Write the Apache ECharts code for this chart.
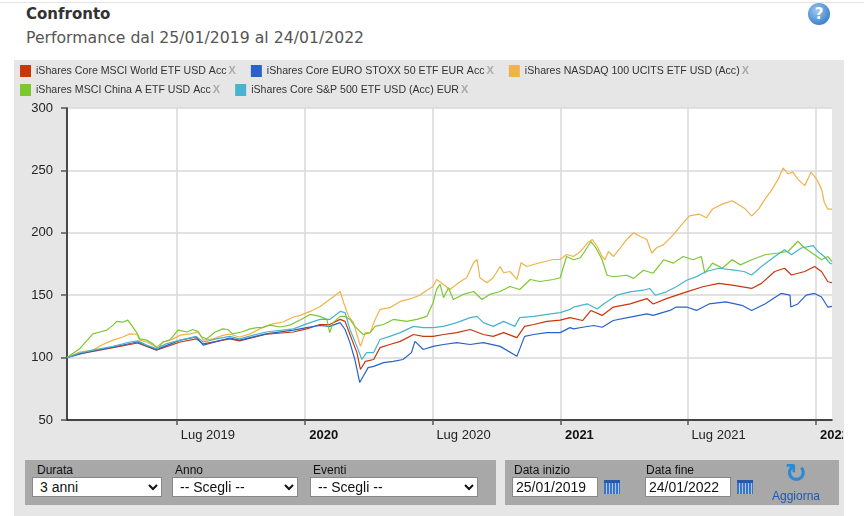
<!DOCTYPE html>
<html>
<head>
    <meta charset="utf-8" />
    <title>Confronto</title>
    <script src="https://cdn.jsdelivr.net/npm/echarts@6/dist/echarts.min.js"></script>
    <style>
        body { margin: 0; width: 864px; height: 516px; overflow: hidden; background: #fff; font-family: 'Liberation Sans', Arial, sans-serif; position: relative; }
        .topline { position: absolute; left: 0; right: 0; top: 2px; height: 1px; background: #e2e2e2; }
        .title { position: absolute; left: 26px; top: 5px; font: bold 15px 'DejaVu Sans', sans-serif; color: #333; }
        .subtitle { position: absolute; left: 26px; top: 28px; font: 15.7px 'DejaVu Sans', sans-serif; color: #555; }
        .help { position: absolute; left: 808px; top: 3px; width: 22px; height: 22px; border-radius: 11px; background: radial-gradient(circle at 40% 35%, #9cc8f0, #3f86d0 70%); color: #fff; font: bold 15px 'DejaVu Sans', sans-serif; text-align: center; line-height: 22px; }
        .panel { position: absolute; left: 14px; top: 60px; width: 830px; height: 456px; background: #e6e6e6; }
        #chart { position: absolute; left: 0; top: 0; width: 843px; height: 516px; }
        .box { position: absolute; top: 460px; height: 45px; background: #a8a8a8; }
        .lbl { position: absolute; top: 463px; font-size: 12px; color: #111; }
        select, input { position: absolute; top: 477px; height: 20px; box-sizing: border-box; font: 14px 'Liberation Sans', Arial, sans-serif; border: 1px solid #888; background: #fff; padding: 0 3px; margin: 0; color: #111; }
        .cal { position: absolute; top: 480px; width: 16px; height: 14px; background: repeating-linear-gradient(90deg, #3c74c8 0 2px, #a8c4ee 2px 3px); border-top: 3px solid #2858a8; box-sizing: border-box; }
        .refresh { position: absolute; left: 785px; top: 458px; font: bold 26px 'DejaVu Sans', sans-serif; color: #2a8ad8; }
        .agg { position: absolute; left: 772px; top: 489px; font-size: 12px; color: #2457b0; }
    </style>
</head>
<body>
    <div class="topline"></div>
    <div class="title">Confronto</div>
    <div class="subtitle">Performance dal 25/01/2019 al 24/01/2022</div>
    <div class="help">?</div>
    <div class="panel"></div>
    <div id="chart"></div>

    <div class="box" style="left:25px;width:471px;"></div>
    <div class="box" style="left:505px;width:334px;"></div>
    <div class="lbl" style="left:37px;">Durata</div>
    <div class="lbl" style="left:175px;">Anno</div>
    <div class="lbl" style="left:313px;">Eventi</div>
    <div class="lbl" style="left:514px;">Data inizio</div>
    <div class="lbl" style="left:646px;">Data fine</div>
    <select style="left:32px;width:130px;"><option>3 anni</option></select>
    <select style="left:172px;width:126px;"><option>-- Scegli --</option></select>
    <select style="left:310px;width:168px;"><option>-- Scegli --</option></select>
    <input style="left:512px;width:86px;" value="25/01/2019" />
    <div class="cal" style="left:604px;"></div>
    <input style="left:645px;width:86px;" value="24/01/2022" />
    <div class="cal" style="left:737px;"></div>
    <div class="refresh">↻</div>
    <div class="agg">Aggiorna</div>

<script>
    // nomi delle serie e colori
    var names = ['iShares Core MSCI World ETF USD Acc', 'iShares Core EURO STOXX 50 ETF EUR Acc', 'iShares NASDAQ 100 UCITS ETF USD (Acc)',
        'iShares MSCI China A ETF USD Acc', 'iShares Core S&P 500 ETF USD (Acc) EUR'];
    var colors = ['#c8360c', '#2a62c9', '#f0b24a', '#7cc82e', '#46b4cc'];

    var tickDates = ['2019-07-01', '2020-01-01', '2020-07-01', '2021-01-01', '2021-07-01', '2022-01-01'];
    var yTicks = [50, 100, 150, 200, 250, 300];

    var world = [['2019-01-25', 100], ['2019-02-12', 103.2], ['2019-03-03', 105], ['2019-04-01', 108], ['2019-05-06', 111.7], ['2019-06-02', 106],
        ['2019-07-06', 112.5], ['2019-07-29', 115], ['2019-08-08', 111], ['2019-09-15', 115], ['2019-09-29', 113.4], ['2019-11-06', 118.7],
        ['2019-12-15', 120.5], ['2020-01-03', 123], ['2020-01-22', 126.5], ['2020-02-05', 126.5], ['2020-02-20', 130.6], ['2020-02-27', 129],
        ['2020-03-05', 118.5], ['2020-03-15', 104], ['2020-03-20', 90.5], ['2020-03-27', 97], ['2020-04-08', 98.5], ['2020-04-17', 108],
        ['2020-05-01', 110.5], ['2020-05-16', 113], ['2020-06-04', 118.5], ['2020-06-18', 117], ['2020-07-02', 117], ['2020-07-17', 118.5],
        ['2020-08-05', 120], ['2020-08-24', 122.5], ['2020-09-12', 118.5], ['2020-09-26', 117], ['2020-10-11', 120], ['2020-10-30', 116],
        ['2020-11-10', 125], ['2020-11-23', 126.5], ['2020-12-12', 129], ['2020-12-31', 130], ['2021-01-14', 132], ['2021-02-01', 129.7],
        ['2021-02-13', 137.8], ['2021-03-01', 133.8], ['2021-03-17', 140.5], ['2021-04-10', 143], ['2021-05-04', 147.3], ['2021-05-13', 143],
        ['2021-06-01', 147.3], ['2021-06-30', 152.7], ['2021-07-23', 156.8], ['2021-08-15', 159.5], ['2021-09-03', 158], ['2021-10-01', 155.4],
        ['2021-10-15', 159.5], ['2021-11-03', 169], ['2021-11-17', 171.6], ['2021-11-27', 166.2], ['2021-12-16', 169], ['2021-12-30', 173],
        ['2022-01-09', 169], ['2022-01-18', 160.8], ['2022-01-24', 160]];

    var stoxx = [['2019-01-25', 100], ['2019-02-12', 102.7], ['2019-03-03', 105.3], ['2019-04-01', 108.5], ['2019-05-06', 112.5], ['2019-06-02', 106.4],
        ['2019-07-06', 114], ['2019-07-29', 116.5], ['2019-08-08', 110], ['2019-09-15', 115.7], ['2019-09-29', 114], ['2019-11-06', 119],
        ['2019-12-15', 122], ['2020-01-03', 124], ['2020-01-22', 125.7], ['2020-02-05', 125], ['2020-02-20', 128], ['2020-02-27', 122.5],
        ['2020-03-05', 112], ['2020-03-12', 98.5], ['2020-03-19', 80], ['2020-03-24', 85], ['2020-03-31', 92], ['2020-04-08', 93],
        ['2020-04-22', 96], ['2020-05-06', 97], ['2020-05-20', 98.5], ['2020-06-01', 104], ['2020-06-06', 113], ['2020-06-18', 106.5],
        ['2020-07-02', 109], ['2020-07-17', 110.5], ['2020-08-05', 112], ['2020-08-24', 110.5], ['2020-09-12', 112], ['2020-10-06', 109],
        ['2020-10-30', 101], ['2020-11-10', 117], ['2020-11-23', 118.5], ['2020-12-12', 120], ['2020-12-31', 120], ['2021-01-14', 124],
        ['2021-01-19', 123], ['2021-02-01', 124.3], ['2021-02-17', 125.7], ['2021-03-01', 124.3], ['2021-03-17', 129.7], ['2021-04-10', 132.4],
        ['2021-05-04', 135], ['2021-05-13', 133.8], ['2021-06-06', 137.8], ['2021-06-15', 140.5], ['2021-06-30', 140.5], ['2021-07-14', 137.8],
        ['2021-08-01', 143], ['2021-08-25', 144.6], ['2021-09-17', 141.9], ['2021-10-01', 137.8], ['2021-10-20', 143], ['2021-11-12', 151.4],
        ['2021-11-25', 150], ['2021-11-26', 140.5], ['2021-12-06', 143], ['2021-12-18', 150], ['2021-12-30', 151.4], ['2022-01-09', 148.6],
        ['2022-01-18', 140.5], ['2022-01-24', 141]];

    var nasdaq = [['2019-01-25', 100], ['2019-02-12', 104.5], ['2019-03-03', 106], ['2019-03-18', 110.7], ['2019-04-01', 114], ['2019-04-15', 116.5],
        ['2019-04-25', 119], ['2019-05-05', 118.7], ['2019-05-09', 114], ['2019-05-19', 112.5], ['2019-06-02', 108.5], ['2019-06-12', 112.5],
        ['2019-06-26', 115], ['2019-07-06', 118], ['2019-07-20', 119], ['2019-08-01', 120.5], ['2019-08-08', 114], ['2019-08-22', 115],
        ['2019-09-06', 118], ['2019-09-15', 118.7], ['2019-09-29', 116.5], ['2019-10-14', 119], ['2019-11-02', 124.5], ['2019-11-16', 127],
        ['2019-11-30', 128.5], ['2019-12-15', 132.5], ['2019-12-25', 133.8], ['2020-01-08', 137], ['2020-01-22', 140.7], ['2020-02-05', 146.6],
        ['2020-02-20', 153], ['2020-02-25', 144], ['2020-03-03', 133], ['2020-03-10', 128], ['2020-03-15', 118.5], ['2020-03-20', 109],
        ['2020-03-27', 120], ['2020-04-03', 120], ['2020-04-10', 130.6], ['2020-04-17', 138.6], ['2020-05-01', 140], ['2020-05-16', 145],
        ['2020-05-30', 147], ['2020-06-13', 150], ['2020-06-23', 154], ['2020-07-02', 157], ['2020-07-07', 162.6], ['2020-07-17', 158.6],
        ['2020-07-26', 154.6], ['2020-08-10', 161], ['2020-08-19', 164], ['2020-08-29', 176], ['2020-09-03', 178.6], ['2020-09-07', 164],
        ['2020-09-17', 160], ['2020-09-26', 164], ['2020-10-06', 173], ['2020-10-11', 168], ['2020-10-20', 169], ['2020-10-30', 162.6],
        ['2020-11-05', 176], ['2020-11-13', 173], ['2020-12-02', 176], ['2020-12-21', 178.6], ['2020-12-31', 178.6], ['2021-01-09', 182.6],
        ['2021-01-19', 181], ['2021-01-29', 185], ['2021-02-08', 192], ['2021-02-15', 194.6], ['2021-02-22', 189], ['2021-03-01', 181],
        ['2021-03-05', 178.4], ['2021-03-10', 185], ['2021-03-17', 181], ['2021-03-27', 188], ['2021-04-05', 194.6], ['2021-04-15', 200],
        ['2021-04-24', 197.3], ['2021-05-04', 194.6], ['2021-05-11', 183.8], ['2021-05-18', 188], ['2021-05-28', 190.5], ['2021-06-11', 198.6],
        ['2021-06-25', 208], ['2021-07-04', 213.5], ['2021-07-18', 215], ['2021-07-28', 212], ['2021-08-06', 219], ['2021-08-20', 223],
        ['2021-09-03', 225.7], ['2021-09-15', 221.6], ['2021-09-22', 219], ['2021-10-01', 213.5], ['2021-10-11', 219], ['2021-10-20', 227],
        ['2021-10-29', 233.8], ['2021-11-08', 243], ['2021-11-15', 252], ['2021-11-22', 247.3], ['2021-11-29', 248.6], ['2021-12-06', 243],
        ['2021-12-16', 237.8], ['2021-12-25', 248.6], ['2022-01-02', 243], ['2022-01-09', 235], ['2022-01-13', 224.3], ['2022-01-18', 219],
        ['2022-01-24', 219]];

    var china = [['2019-01-25', 100], ['2019-02-12', 107], ['2019-03-03', 119], ['2019-03-13', 120.5], ['2019-03-23', 122], ['2019-04-01', 126],
        ['2019-04-06', 129], ['2019-04-15', 128.5], ['2019-04-22', 130], ['2019-04-26', 127], ['2019-05-06', 119], ['2019-05-09', 115],
        ['2019-05-19', 114], ['2019-05-28', 111], ['2019-06-04', 107], ['2019-06-11', 112.5], ['2019-06-21', 114], ['2019-07-03', 122],
        ['2019-07-16', 120.5], ['2019-07-24', 122.5], ['2019-07-31', 121], ['2019-08-06', 116.5], ['2019-08-13', 115], ['2019-08-25', 120.5],
        ['2019-09-05', 123], ['2019-09-12', 122.5], ['2019-09-19', 119], ['2019-10-02', 120.5], ['2019-10-14', 123], ['2019-10-24', 124],
        ['2019-11-01', 124], ['2019-11-11', 126], ['2019-11-26', 124.5], ['2019-12-10', 126], ['2019-12-24', 130], ['2020-01-08', 134.6],
        ['2020-01-22', 133], ['2020-02-01', 130.6], ['2020-02-05', 120], ['2020-02-10', 128], ['2020-02-20', 133], ['2020-02-27', 133],
        ['2020-03-05', 130.6], ['2020-03-12', 125], ['2020-03-24', 118.5], ['2020-04-03', 120], ['2020-04-10', 125], ['2020-04-22', 126.5],
        ['2020-05-06', 130.6], ['2020-05-25', 129], ['2020-06-09', 130.6], ['2020-06-23', 133], ['2020-07-02', 144], ['2020-07-07', 154.6],
        ['2020-07-12', 158.6], ['2020-07-17', 148], ['2020-07-24', 156], ['2020-07-31', 146.6], ['2020-08-14', 150.6], ['2020-08-29', 153],
        ['2020-09-10', 146.6], ['2020-09-21', 150.6], ['2020-10-06', 153], ['2020-10-20', 157], ['2020-11-03', 154.6], ['2020-11-18', 162.6],
        ['2020-12-02', 161], ['2020-12-21', 162.6], ['2020-12-31', 164], ['2021-01-09', 181], ['2021-01-19', 178.4], ['2021-01-29', 180],
        ['2021-02-13', 193], ['2021-02-20', 188], ['2021-03-01', 178.4], ['2021-03-08', 166], ['2021-03-17', 164.8], ['2021-04-05', 166],
        ['2021-04-15', 163.5], ['2021-04-29', 170], ['2021-05-13', 167.6], ['2021-05-28', 178.4], ['2021-06-11', 175.7], ['2021-06-25', 181],
        ['2021-07-09', 178.4], ['2021-07-21', 181], ['2021-07-26', 167.6], ['2021-08-06', 175.7], ['2021-08-20', 171.6], ['2021-09-03', 178.4],
        ['2021-09-15', 174.3], ['2021-10-01', 178.4], ['2021-10-20', 182.4], ['2021-11-08', 183.8], ['2021-11-22', 185], ['2021-12-06', 193.2],
        ['2021-12-16', 187.8], ['2021-12-30', 182.4], ['2022-01-09', 178.4], ['2022-01-18', 181], ['2022-01-24', 177]];

    var sp500 = [['2019-01-25', 100], ['2019-02-12', 103.7], ['2019-03-03', 106], ['2019-04-01', 109], ['2019-04-25', 112.5], ['2019-05-06', 113.4],
        ['2019-05-19', 110], ['2019-06-02', 107.2], ['2019-06-16', 111], ['2019-07-06', 114], ['2019-07-29', 117], ['2019-08-08', 112.5],
        ['2019-08-27', 115], ['2019-09-15', 117], ['2019-09-29', 115], ['2019-10-19', 118], ['2019-11-06', 120.5], ['2019-11-30', 122],
        ['2019-12-15', 123], ['2020-01-03', 127], ['2020-01-22', 130.6], ['2020-02-05', 130.6], ['2020-02-20', 137], ['2020-02-27', 136],
        ['2020-03-05', 122.5], ['2020-03-15', 109], ['2020-03-22', 98.5], ['2020-03-29', 104], ['2020-04-08', 104], ['2020-04-17', 114.5],
        ['2020-05-01', 117], ['2020-05-16', 120], ['2020-06-04', 125], ['2020-06-18', 124], ['2020-07-02', 124], ['2020-07-17', 125],
        ['2020-08-05', 128], ['2020-08-24', 132], ['2020-09-03', 133], ['2020-09-12', 128], ['2020-09-26', 125], ['2020-10-11', 129],
        ['2020-10-27', 125], ['2020-11-03', 132], ['2020-11-23', 133], ['2020-12-12', 134.6], ['2020-12-31', 136], ['2021-01-14', 138.6],
        ['2021-01-19', 140.5], ['2021-02-08', 143], ['2021-02-22', 139], ['2021-03-03', 143], ['2021-03-22', 150], ['2021-04-10', 152.7],
        ['2021-04-29', 154], ['2021-05-08', 155.4], ['2021-05-16', 150], ['2021-06-01', 152.7], ['2021-06-15', 156.8], ['2021-06-30', 162],
        ['2021-07-14', 164.9], ['2021-07-28', 169], ['2021-08-15', 171.6], ['2021-09-03', 170.3], ['2021-09-20', 169], ['2021-10-01', 166.2],
        ['2021-10-15', 173], ['2021-11-03', 181], ['2021-11-17', 186.5], ['2021-11-27', 182.4], ['2021-12-11', 187.8], ['2021-12-28', 189.7],
        ['2022-01-04', 185], ['2022-01-13', 181], ['2022-01-21', 175.7], ['2022-01-24', 175]];

    var seriesData = [world, stoxx, nasdaq, china, sp500];

    var toTime = function (s) { return echarts.number.parseDate(s).getTime(); };
    var ticks = tickDates.map(toTime);

    var legendText = {
        fontFamily: 'Liberation Sans', fontSize: 10.6, color: '#333',
        rich: { x: { fontFamily: 'Liberation Sans', fontSize: 11, fontWeight: 'bold', color: '#aaaaaa', padding: [0, 0, 0, 2] } }
    };
    var legendBase = {
        orient: 'horizontal', icon: 'rect', itemWidth: 11, itemHeight: 12, itemGap: 15, padding: 0,
        textStyle: legendText, formatter: function (n) { return n + '{x|X}'; },
        selectedMode: false
    };

    var myChart = echarts.init(document.getElementById('chart'));
    var option = {
        animation: false,
        color: colors,
        legend: [
            Object.assign({}, legendBase, { left: 20, top: 65, data: names.slice(0, 3) }),
            Object.assign({}, legendBase, { left: 20, top: 84, data: names.slice(3) })
        ],
        grid: {
            left: 67, right: 11, top: 108, bottom: 96, show: true, backgroundColor: '#fff', borderWidth: 0,
            containLabel: false, outerBoundsMode: 'none'
        },
        xAxis: {
            type: 'value',
            min: toTime('2019-01-25'),
            max: toTime('2022-01-24'),
            axisLine: { lineStyle: { color: '#111', width: 1.5 } },
            axisTick: { customValues: ticks, length: 5, lineStyle: { color: '#555', width: 1.5 } },
            splitLine: { show: true, lineStyle: { color: '#d9d9d9', width: 1.5 } },
            axisLabel: {
                customValues: ticks, align: 'left', margin: 9, padding: [0, 0, 0, 4],
                fontFamily: 'Liberation Sans', fontSize: 13, color: '#222', hideOverlap: false,
                formatter: function (v) {
                    var d = new Date(v);
                    return d.getMonth() === 0 ? '{b|' + d.getFullYear() + '}' : 'Lug ' + d.getFullYear();
                },
                rich: { b: { fontFamily: 'Liberation Sans', fontSize: 13, fontWeight: 'bold', color: '#111' } }
            }
        },
        yAxis: {
            type: 'value',
            min: yTicks[0], max: yTicks[yTicks.length - 1], interval: 50,
            axisLine: { show: true, lineStyle: { color: '#111', width: 1.5 } },
            axisTick: { show: true, length: 6, lineStyle: { color: '#555', width: 1.5 } },
            splitLine: { lineStyle: { color: '#d9d9d9', width: 1.5 } },
            axisLabel: { margin: 14, fontFamily: 'Liberation Sans', fontSize: 13, color: '#222' }
        },
        series: names.map(function (n, i) {
            return {
                name: n, type: 'line', showSymbol: false, symbol: 'none',
                lineStyle: { width: 1.2, color: colors[i] },
                data: seriesData[i].map(function (p) { return [toTime(p[0]), p[1]]; })
            };
        })
    };
    myChart.setOption(option);
</script>
</body>
</html>
